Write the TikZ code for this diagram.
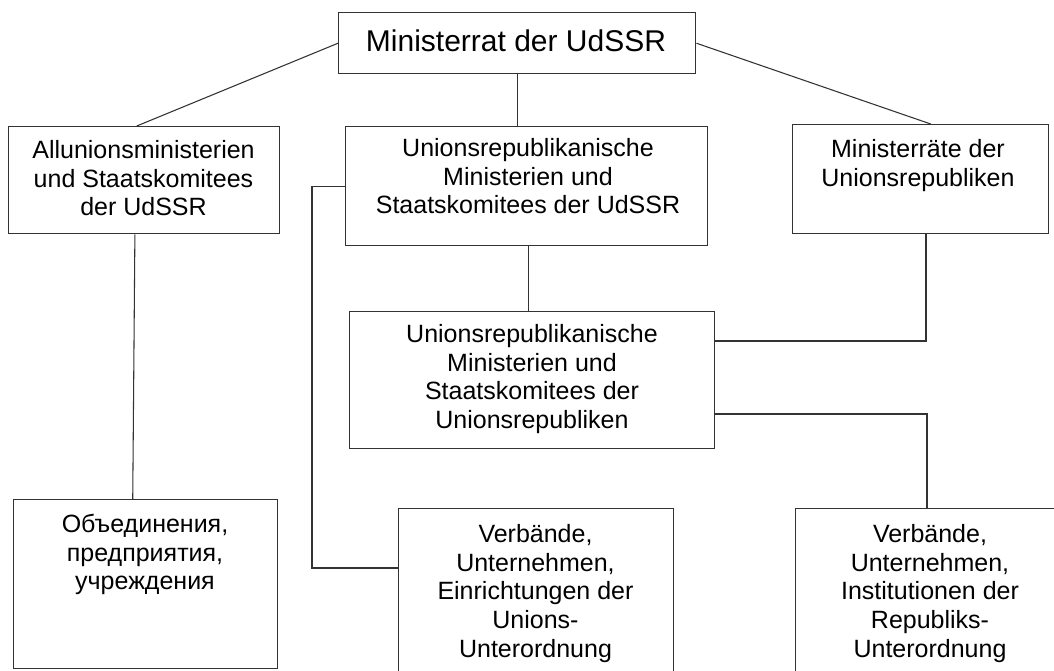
\documentclass[tikz,border=0pt]{standalone}
\usepackage{fontspec}
\setmainfont{Liberation Sans}
\begin{document}
\begin{tikzpicture}[x=0.75pt,y=-0.75pt,
  box/.style={draw=black!80, line width=1.1pt, rectangle, inner sep=0pt, anchor=north west},
  txt/.style={align=center, inner sep=0pt, font=\fontsize{18.75pt}{21.5pt}\selectfont, anchor=north},
  conn/.style={draw=black!80, line width=0.8pt}]
\useasboundingbox (0,0) rectangle (1054,671);
\fill[white] (0,0) rectangle (1054,671);
\clip (0,0) rectangle (1054,671);
% boxes
\node[box, minimum width=267.75pt, minimum height=45.75pt] (b1) at (338,12) {};
\node[box, minimum width=203.25pt, minimum height=80.25pt] (b2) at (8,126) {};
\node[box, minimum width=271.5pt, minimum height=89.25pt] (b3) at (345,126) {};
\node[box, minimum width=192pt, minimum height=81.75pt] (b4) at (792,124) {};
\node[box, minimum width=273.75pt, minimum height=102.75pt] (b5) at (349,311) {};
\node[box, minimum width=198pt, minimum height=126.75pt] (b6) at (13,499) {};
\node[box, minimum width=206.25pt, minimum height=136.5pt] (b7) at (398,508) {};
\node[box, minimum width=202.5pt, minimum height=136.5pt] (b8) at (795,508) {};
% texts
\node[anchor=base, inner sep=0pt, font=\fontsize{22.5pt}{27pt}\selectfont] (t1) at (516,51) {Ministerrat der UdSSR};
\node[txt] (t2) at (143.5,140) {Allunionsministerien\\und Staatskomitees\\der UdSSR};
\node[txt] (t3) at (528,138) {Unionsrepublikanische\\Ministerien und\\Staatskomitees der UdSSR};
\node[txt] (t4) at (918,139) {Ministerräte der\\Unionsrepubliken};
\node[txt] (t5) at (532,324) {Unionsrepublikanische\\Ministerien und\\Staatskomitees der\\Unionsrepubliken};
\node[txt] (t6) at (145,514) {Объединения,\\предприятия,\\учреждения};
\node[txt] (t7) at (535.5,524) {Verbände,\\Unternehmen,\\Einrichtungen der\\Unions-\\Unterordnung};
\node[txt] (t8) at (930,524) {Verbände,\\Unternehmen,\\Institutionen der\\Republiks-\\Unterordnung};
% connectors
\draw[conn] (b1.west) -- ([xshift=-5.6pt]b2.north);
\draw[conn] (b1.east) -- ([xshift=7.5pt]b4.north);
\draw[conn] (b1.south) -- (b1.south |- b3.north);
\draw[conn] ([xshift=-7pt]b2.south) -- ([xshift=-9.75pt]b6.north);
\coordinate (k1) at (312,568);
\draw[conn] (b3.west) -| (k1) -- (k1 -| b7.west);
\draw[conn] ([xshift=1.5pt]b3.south) -- ([xshift=1.5pt]b3.south |- b5.north);
\coordinate (k2) at (926,341);
\draw[conn] (k2 |- b4.south) -- (k2) -- (k2 -| b5.east);
\coordinate (k3) at (927,414);
\draw[conn] (k3 -| b5.east) -- (k3) -- (k3 |- b8.north);
\end{tikzpicture}
\end{document}
